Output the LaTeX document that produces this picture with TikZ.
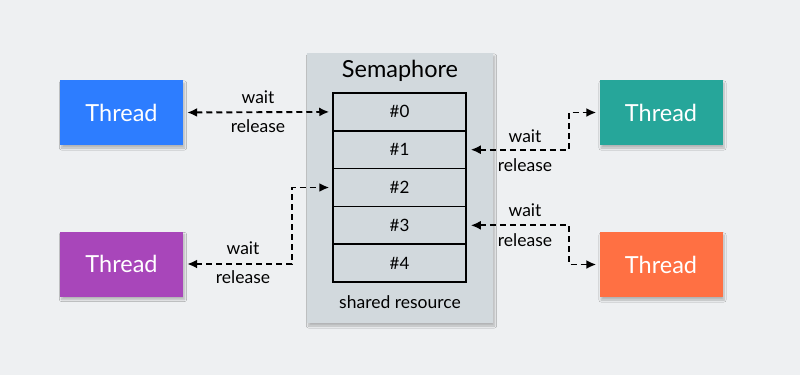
\documentclass[tikz,border=0pt]{standalone}
\usepackage{fontspec}
\setmainfont{Lato}
\usetikzlibrary{arrows.meta,shadows.blur}
\definecolor{bg}{RGB}{238,240,242}
\definecolor{panel}{RGB}{210,217,221}
\definecolor{tblue}{RGB}{45,125,255}
\definecolor{tpurple}{RGB}{168,70,186}
\definecolor{tteal}{RGB}{38,166,154}
\definecolor{torange}{RGB}{255,112,67}
\tikzset{
  thread/.style={minimum width=123pt, minimum height=65pt, inner sep=0pt,
    text=white, font=\fontsize{23.5}{25}\selectfont,
    blur shadow={shadow blur steps=6, shadow xshift=1.5pt, shadow yshift=-3pt, shadow opacity=25}},
  slot/.style={draw=black, line width=1.5pt, fill=panel, minimum width=133pt,
    minimum height=37.8pt, inner sep=0pt, font=\fontsize{17}{19}\selectfont},
  conn/.style={dashed, dash pattern=on 6pt off 4pt, line width=1.9pt,
    {Latex[length=10pt,width=9pt]}-{Latex[length=10pt,width=9pt]}, shorten <=4pt, shorten >=3pt},
  lbl/.style={font=\fontsize{17.5}{19}\selectfont, inner sep=0pt}
}
\begin{document}
\begin{tikzpicture}[x=1pt,y=-1pt]
\useasboundingbox (0,0) rectangle (800,375);
\fill[bg] (0,0) rectangle (800,375);
% semaphore panel
\node[fill=panel, minimum width=186pt, minimum height=270pt, inner sep=0pt,
  blur shadow={shadow blur steps=6, shadow xshift=1.5pt, shadow yshift=-3pt, shadow opacity=25}]
  (sem) at (400,188) {};
\node[font=\fontsize{23.5}{25}\selectfont] (semt) at (400,71) {Semaphore};
\node[lbl] (shr) at (400,302) {shared resource};
% slots
\node[slot] (s0) at (399.5,111.9) {\#0};
\node[slot] (s1) at (399.5,149.7) {\#1};
\node[slot] (s2) at (399.5,187.5) {\#2};
\node[slot] (s3) at (399.5,225.3) {\#3};
\node[slot] (s4) at (399.5,263.1) {\#4};
% threads
\node[thread, fill=tblue] (t1) at (121.5,112.5) {Thread};
\node[thread, fill=tpurple] (t2) at (121.5,264) {Thread};
\node[thread, fill=tteal] (t3) at (661,112.5) {Thread};
\node[thread, fill=torange] (t4) at (661,264.5) {Thread};
% bend coordinates
\coordinate (k2) at (292,264);
\coordinate (k3) at (569,149.7);
\coordinate (k4) at (569,225.3);
% connectors
\draw[conn] (t1.east) -- (s0.west);
\draw[conn] (t2.east) -- (k2) |- (s2.west);
\draw[conn] (s1.east) -- (k3) |- (t3.west);
\draw[conn] (s3.east) -- (k4) |- (t4.west);
% labels
\node[lbl] (w1) at (258,97) {wait};
\node[lbl] (r1) at (258,126) {release};
\node[lbl] (w2) at (243,248) {wait};
\node[lbl] (r2) at (243,277) {release};
\node[lbl] (w3) at (525,136) {wait};
\node[lbl] (r3) at (525,165) {release};
\node[lbl] (w4) at (525,210) {wait};
\node[lbl] (r4) at (525,240) {release};
\end{tikzpicture}
\end{document}
